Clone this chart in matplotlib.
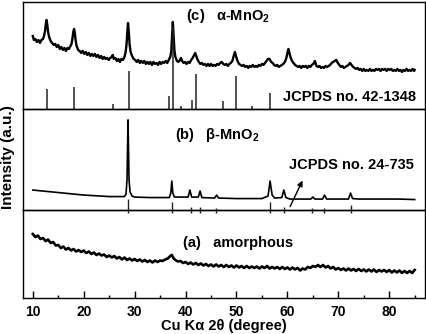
import numpy as np
import matplotlib
matplotlib.use('Agg')
import matplotlib.pyplot as plt

plt.rcParams['font.family'] = ['Liberation Sans', 'DejaVu Sans']
plt.rcParams['font.weight'] = 'bold'
plt.rcParams['mathtext.fontset'] = 'custom'
plt.rcParams['mathtext.rm'] = 'Liberation Sans:bold'
plt.rcParams['mathtext.default'] = 'rm'

# (c) alpha-MnO2 pattern
alpha_x = [10.0, 10.2, 10.5, 10.8, 11.1, 11.4, 11.7, 12.0, 12.2, 12.4, 12.55, 12.7, 12.85, 13.0, 13.2, 13.5,
           13.8, 14.1, 14.4, 14.7, 15.0, 15.3, 15.6, 15.9, 16.2, 16.5, 16.8, 17.1, 17.4, 17.6, 17.8, 17.95,
           18.1, 18.25, 18.4, 18.6, 18.9, 19.2, 19.5, 19.8, 20.1, 20.4, 20.7, 21.0, 21.3, 21.6, 21.9, 22.2,
           22.5, 22.8, 23.1, 23.4, 23.7, 24.0, 24.3, 24.6, 24.9, 25.2, 25.5, 25.7, 25.9, 26.2, 26.5, 26.8,
           27.1, 27.4, 27.7, 28.0, 28.2, 28.4, 28.55, 28.7, 28.85, 29.0, 29.2, 29.5, 29.8, 30.1, 30.4, 30.7,
           31.0, 31.3, 31.6, 31.9, 32.2, 32.5, 32.8, 33.1, 33.4, 33.7, 34.0, 34.3, 34.6, 34.9, 35.2, 35.5,
           35.8, 36.1, 36.4, 36.7, 37.0, 37.2, 37.35, 37.5, 37.65, 37.8, 38.0, 38.3, 38.6, 38.9, 39.1, 39.3,
           39.6, 39.9, 40.2, 40.5, 40.8, 41.1, 41.4, 41.7, 41.9, 42.1, 42.3, 42.6, 42.9, 43.2, 43.5, 43.8,
           44.1, 44.4, 44.7, 45.0, 45.3, 45.6, 45.9, 46.2, 46.5, 46.8, 47.1, 47.4, 47.7, 48.0, 48.3, 48.6,
           48.9, 49.2, 49.45, 49.7, 49.95, 50.2, 50.5, 50.8, 51.1, 51.4, 51.7, 52.0, 52.3, 52.6, 52.9, 53.2,
           53.5, 53.8, 54.1, 54.4, 54.7, 55.0, 55.3, 55.6, 55.9, 56.2, 56.5, 56.8, 57.1, 57.4, 57.7, 58.0,
           58.3, 58.6, 58.9, 59.2, 59.5, 59.8, 60.0, 60.2, 60.4, 60.6, 60.9, 61.2, 61.5, 61.8, 62.1, 62.4,
           62.7, 63.0, 63.3, 63.6, 63.9, 64.2, 64.5, 64.8, 65.1, 65.4, 65.7, 66.0, 66.3, 66.6, 66.9, 67.2,
           67.5, 67.8, 68.1, 68.4, 68.7, 69.0, 69.3, 69.6, 69.9, 70.2, 70.5, 70.8, 71.1, 71.4, 71.7, 72.0,
           72.3, 72.6, 72.9, 73.2, 73.5, 73.8, 74.1, 74.4, 74.7, 75.0, 75.3, 75.6, 75.9, 76.2, 76.5, 76.8,
           77.1, 77.4, 77.7, 78.0, 78.3, 78.6, 78.9, 79.2, 79.5, 79.8, 80.1, 80.4, 80.7, 81.0, 81.3, 81.6,
           81.9, 82.2, 82.5, 82.8, 83.1, 83.4, 83.7, 84.0, 84.3, 84.6, 84.9, 85.0]
alpha_y = [73, 69, 70, 67, 69, 66, 69, 70, 73, 78, 85, 89, 84, 77, 72, 68,
           66, 64, 65, 62, 64, 60, 62, 59, 61, 58, 61, 60, 63, 65, 71, 77,
           80, 76, 69, 63, 59, 58, 56, 58, 55, 57, 54, 56, 53, 55, 53, 55,
           52, 54, 51, 53, 50, 52, 50, 51, 49, 51, 52, 54, 50, 51, 48, 50,
           47, 50, 49, 52, 56, 64, 76, 86, 77, 65, 57, 53, 50, 49, 47, 49,
           46, 48, 46, 48, 45, 47, 45, 47, 44, 47, 45, 46, 44, 47, 45, 47,
           46, 48, 46, 49, 52, 58, 72, 87, 74, 59, 52, 48, 47, 49, 51, 48,
           46, 47, 45, 47, 46, 49, 51, 54, 56, 53, 50, 47, 45, 46, 44, 45,
           43, 45, 43, 45, 43, 44, 43, 45, 44, 46, 47, 45, 44, 45, 43, 45,
           46, 48, 53, 57, 52, 48, 45, 44, 43, 44, 42, 43, 41, 43, 42, 44,
           42, 43, 42, 44, 43, 45, 44, 46, 48, 50, 50, 47, 46, 44, 43, 44,
           42, 43, 44, 45, 47, 51, 56, 60, 56, 52, 48, 46, 44, 43, 42, 43,
           41, 43, 42, 43, 41, 43, 42, 44, 45, 48, 43, 42, 43, 41, 42, 41,
           43, 42, 43, 44, 46, 47, 48, 49, 46, 44, 42, 43, 41, 42, 43, 44,
           46, 44, 42, 41, 40, 41, 39, 40, 38, 40, 38, 39, 38, 40, 38, 39,
           38, 40, 39, 40, 38, 40, 39, 40, 38, 40, 39, 40, 38, 39, 38, 40,
           38, 39, 37, 39, 38, 40, 38, 39, 38, 40, 38, 39]

# JCPDS 42-1348 reference lines
alpha_ref_x = [12.7, 18.1, 25.8, 28.8, 36.7, 37.5, 39.1, 41.3, 42.1, 47.4, 50.0, 53.0, 56.5]
alpha_ref_h = [20, 22, 5, 38, 13, 82, 3, 9, 35, 8, 33, 2.5, 16]

# (b) beta-MnO2 pattern
beta_x = [10.0, 12.0, 15.0, 20.0, 25.0, 28.0, 28.3, 28.5, 28.6, 28.7, 28.8, 28.9, 29.1, 29.5, 30.0,
          33.0, 36.8, 37.1, 37.3, 37.5, 37.8, 40.5, 40.85, 41.2, 42.5, 42.85, 43.2, 45.7, 46.1, 46.5,
          50.0, 55.0, 56.2, 56.6, 57.0, 57.5, 58.9, 59.3, 59.7, 60.5, 64.6, 65.0, 65.4, 66.9, 67.3,
          67.7, 72.0, 72.4, 72.8, 74.0, 78.0, 82.0, 85.0]
beta_y = [20, 19, 17.5, 15, 13.5, 13.5, 16, 30, 60, 90, 60, 30, 18, 14, 13,
          12.5, 12.5, 17, 29, 17, 13, 13, 20, 13, 13, 19, 12.5, 12, 15, 12,
          11.5, 11.5, 14, 29, 15, 12, 12.5, 20, 12.5, 11, 11, 13, 11, 11, 15,
          11, 11, 17, 11.5, 11, 11, 11, 10.5]

# JCPDS 24-735 reference lines
beta_ref_x = [28.7, 37.3, 41.0, 42.8, 46.0, 56.6, 59.4, 64.9, 67.2, 72.4]
beta_ref_h = [11, 8, 3, 3, 2, 8, 3, 2, 2, 5]

# (a) amorphous pattern
amor_x = [10.0, 10.5, 11.0, 11.5, 12.0, 12.5, 13.0, 13.5, 14.0, 14.5, 15.0, 15.5, 16.0, 16.5, 17.0, 17.5,
          18.0, 18.5, 19.0, 19.5, 20.0, 20.5, 21.0, 21.5, 22.0, 22.5, 23.0, 23.5, 24.0, 24.5, 25.0, 25.5,
          26.0, 26.5, 27.0, 27.5, 28.0, 28.5, 29.0, 29.5, 30.0, 30.5, 31.0, 31.5, 32.0, 32.5, 33.0, 33.5,
          34.0, 34.5, 35.0, 35.5, 36.0, 36.5, 37.0, 37.3, 37.6, 38.0, 38.5, 39.0, 39.5, 40.0, 40.5, 41.0,
          41.5, 42.0, 42.5, 43.0, 43.5, 44.0, 44.5, 45.0, 45.5, 46.0, 46.5, 47.0, 47.5, 48.0, 48.5, 49.0,
          49.5, 50.0, 50.5, 51.0, 51.5, 52.0, 52.5, 53.0, 53.5, 54.0, 54.5, 55.0, 55.5, 56.0, 56.5, 57.0,
          57.5, 58.0, 58.5, 59.0, 59.5, 60.0, 60.5, 61.0, 61.5, 62.0, 62.5, 63.0, 63.5, 64.0, 64.5, 65.0,
          65.5, 66.0, 66.5, 67.0, 67.5, 68.0, 68.5, 69.0, 69.5, 70.0, 70.5, 71.0, 71.5, 72.0, 72.5, 73.0,
          73.5, 74.0, 74.5, 75.0, 75.5, 76.0, 76.5, 77.0, 77.5, 78.0, 78.5, 79.0, 79.5, 80.0, 80.5, 81.0,
          81.5, 82.0, 82.5, 83.0, 83.5, 84.0, 84.5, 85.0]
amor_y = [64, 61, 62.5, 59, 60, 57, 58.5, 55, 56, 52.5, 53, 50, 51.5, 48.5, 50, 47.5,
          49, 46.5, 48, 46, 47.5, 45, 46.5, 44, 45.5, 43, 44.5, 42.5, 43.5, 41, 42.5, 40.5,
          42, 39.5, 41, 38.5, 40.5, 38, 39.5, 37.5, 39, 37, 38.5, 36.5, 38, 36, 37.5, 35.5,
          37.5, 36, 37.5, 37, 38.5, 39.5, 42, 43, 40, 38, 36.5, 37, 35, 36, 34, 35.5,
          33.5, 35, 33, 34.5, 32.5, 34, 32, 33.5, 31.5, 33.5, 31.5, 33, 31, 33, 31, 32.5,
          30.5, 32.5, 30.5, 32, 30, 32, 30, 31.5, 30, 31.5, 29.5, 31.5, 30, 32, 29.5, 31,
          29.5, 31, 29, 31, 29, 30.5, 28.5, 30.5, 28.5, 30, 27.5, 29.5, 28.5, 31, 30, 32,
          31, 33, 31, 33, 30.5, 32, 29.5, 31, 28.5, 30, 28, 29.5, 27.5, 29.5, 27.5, 29,
          27, 29, 27, 28.5, 26.5, 28.5, 26.5, 28.5, 26, 28, 26.5, 28, 26, 28, 25.5, 27.5,
          25.5, 27.5, 25, 27, 25, 27, 25, 28]

xticks = [10, 20, 30, 40, 50, 60, 70, 80]

fig = plt.figure(figsize=(4.27, 3.34), dpi=100)
ax_c = fig.add_axes([0.053, 0.674, 0.942, 0.320])
ax_b = fig.add_axes([0.053, 0.371, 0.942, 0.303])
ax_a = fig.add_axes([0.053, 0.108, 0.942, 0.263])

for ax, top in [(ax_c, 107), (ax_b, 101), (ax_a, 88)]:
    ax.set_xlim(8, 87)
    ax.set_ylim(0, top)
    ax.set_yticks([])
    ax.patch.set_visible(False)
    for s in ax.spines.values():
        s.set_linewidth(1.0)

ax_b.set_zorder(3)

for ax in (ax_c, ax_b):
    ax.set_xticks([])

# top panel
ax_c.plot(alpha_x, alpha_y, color='black', lw=1.7)
ax_c.vlines(alpha_ref_x, 0, alpha_ref_h, color='#222222', lw=1.1)
ax_c.text(48.3, 93, r'(c)   α-MnO$_2$', ha='center', va='center', fontsize=10.5, fontweight='bold')
ax_c.text(85.2, 12, 'JCPDS no. 42-1348', ha='right', va='center', fontsize=10.5, fontweight='bold')

# middle panel
ax_b.plot(beta_x, beta_y, color='black', lw=1.2)
ax_b.vlines(beta_ref_x, -2.5, beta_ref_h, color='#222222', lw=1.0, clip_on=False)
ax_b.text(46.3, 75, r'(b)   β-MnO$_2$', ha='center', va='center', fontsize=10.5, fontweight='bold')
ax_b.text(84.8, 45, 'JCPDS no. 24-735', ha='right', va='center', fontsize=10.5, fontweight='bold')
ax_b.annotate('', xy=(63.2, 32), xytext=(60.3, 1),
              arrowprops=dict(arrowstyle='-|>', color='black', lw=1.0, mutation_scale=8))

# bottom panel
ax_a.plot(amor_x, amor_y, color='black', lw=1.9)
ax_a.text(50.4, 55, '(a)   amorphous', ha='center', va='center', fontsize=10.5, fontweight='bold')
ax_a.set_xticks(xticks)
ax_a.set_xticks(np.arange(15, 86, 10), minor=True)
ax_a.tick_params(axis='x', which='major', direction='in', length=5, width=1, pad=5, labelsize=10)
ax_a.tick_params(axis='x', which='minor', direction='in', length=2.5, width=1)
for lab in ax_a.get_xticklabels():
    lab.set_fontweight('bold')
ax_a.set_xlabel('Cu Kα 2θ (degree)', fontsize=10.5, fontweight='bold', labelpad=0)

fig.text(0.018, 0.53, 'Intensity (a.u.)', rotation=90, ha='center', va='center',
         fontsize=11, fontweight='bold')

fig.savefig('out.png', dpi=100)
